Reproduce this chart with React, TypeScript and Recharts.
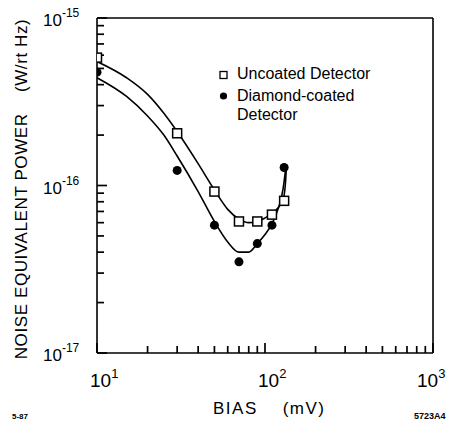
import React from 'react';
import { ComposedChart, XAxis, YAxis, Line, Scatter, Legend, Label } from 'recharts';

// Measured points
const uncoatedBias = [10, 30, 50, 70, 90, 110, 130];
const uncoatedNep = [5.8e-16, 2.05e-16, 9.2e-17, 6.1e-17, 6.1e-17, 6.7e-17, 8.1e-17];
const coatedBias = [10, 30, 50, 70, 90, 110, 130];
const coatedNep = [4.75e-16, 1.23e-16, 5.8e-17, 3.5e-17, 4.5e-17, 5.8e-17, 1.28e-16];

// Fitted curves
const uncoatedFitBias = [10, 15, 20, 25, 30, 40, 50, 60, 70, 80, 90, 100, 110, 120, 128, 132, 134];
const uncoatedFitNep = [5.5e-16, 4.4e-16, 3.5e-16, 2.7e-16, 2.1e-16, 1.35e-16, 9.4e-17, 7.2e-17, 6.3e-17, 6.0e-17, 6.1e-17, 6.4e-17, 6.8e-17, 7.4e-17, 8.2e-17, 1.0e-16, 1.27e-16];
const coatedFitBias = [10, 15, 20, 25, 30, 40, 50, 60, 70, 80, 90, 100, 110, 120, 128, 133];
const coatedFitNep = [4.4e-16, 3.4e-16, 2.6e-16, 2.0e-16, 1.5e-16, 9.2e-17, 6.1e-17, 4.6e-17, 4.0e-17, 4.0e-17, 4.5e-17, 5.1e-17, 5.9e-17, 7.3e-17, 9.5e-17, 1.28e-16];

const xTicks = [10, 20, 30, 40, 50, 60, 70, 80, 90, 100, 200, 300, 400, 500, 600, 700, 800, 900, 1000];
const yTicks = [1e-17, 2e-17, 3e-17, 4e-17, 5e-17, 6e-17, 7e-17, 8e-17, 9e-17, 1e-16, 2e-16, 3e-16, 4e-16, 5e-16, 6e-16, 7e-16, 8e-16, 9e-16, 1e-15];

const legendLabels = ['Uncoated Detector', 'Diamond-coated', 'Detector'];

const zip = (xs: number[], ys: number[]) => xs.map((x, i) => ({ x, y: ys[i] }));
const uncoatedPts = zip(uncoatedBias, uncoatedNep);
const coatedPts = zip(coatedBias, coatedNep);
const uncoatedFit = zip(uncoatedFitBias, uncoatedFitNep);
const coatedFit = zip(coatedFitBias, coatedFitNep);

const FONT = '"Liberation Sans", Arial, sans-serif';
const TICK = 7; // inward minor tick length
const TICK_STYLE = { stroke: '#000', strokeWidth: 1.7 };
const exponentOf = (v: number) => Math.round(Math.log10(v));
const isMajor = (v: number) => Math.abs(Math.log10(v) - exponentOf(v)) < 1e-6;

// Tick label components; (x, y) is the inner end of the built-in inward tick line.
const BottomTick = (props: any) => {
  const { x, y, payload } = props;
  const v = payload.value;
  if (!isMajor(v)) return <g />;
  const e = exponentOf(v);
  const startShift = e === 3 ? -16 : -7;
  return (
    <g>
      <line x1={x} x2={x} y1={y} y2={y - 3} stroke="#000" strokeWidth={1.7} />
      <text x={x + startShift} y={y + TICK + 34} fontSize={19} fontFamily={FONT} fill="#000" textAnchor="start">
        10<tspan dy={-9} fontSize={13}>{e}</tspan>
      </text>
    </g>
  );
};

const LeftTick = (props: any) => {
  const { x, y, payload } = props;
  const v = payload.value;
  if (!isMajor(v)) return <g />;
  const e = exponentOf(v);
  return (
    <g>
      <line x1={x} x2={x + 3} y1={y} y2={y} stroke="#000" strokeWidth={1.7} />
      <text x={x - TICK - 54} y={y + 8} fontSize={17} fontFamily={FONT} fill="#000" textAnchor="start">
        10<tspan dy={-9} fontSize={12}>{e}</tspan>
      </text>
    </g>
  );
};

const SquareShape = (props: any) => {
  const { cx, cy } = props;
  return <rect x={cx - 4.5} y={cy - 4.5} width={9} height={9} fill="#fff" stroke="#000" strokeWidth={1.5} />;
};
const DotShape = (props: any) => {
  const { cx, cy } = props;
  return <circle cx={cx} cy={cy} r={4.5} fill="#000" />;
};
const NoShape = () => <g />;

const LegendContent = () => (
  <svg width={200} height={70} style={{ display: 'block', overflow: 'visible' }}>
    <rect x={4} y={7.5} width={7} height={7} fill="#fff" stroke="#000" strokeWidth={1.3} />
    <text x={21} y={15} fontSize={16} fontFamily={FONT} fill="#000">{legendLabels[0]}</text>
    <circle cx={7.5} cy={32} r={3.6} fill="#000" />
    <text x={21} y={37} fontSize={16} fontFamily={FONT} fill="#000">{legendLabels[1]}</text>
    <text x={21} y={56} fontSize={16} fontFamily={FONT} fill="#000">{legendLabels[2]}</text>
  </svg>
);

export default function App() {
  return (
    <div style={{ position: 'absolute', left: 0, top: 0, width: 452, height: 423, background: '#fff' }}>
      <ComposedChart width={452} height={423} margin={{ top: 8, right: 9, bottom: 30, left: 37 }}>
        <XAxis
          xAxisId={0}
          dataKey="x"
          type="number"
          scale="log"
          domain={[10, 1000]}
          ticks={xTicks}
          interval={0}
          tickSize={-TICK}
          tickMargin={0}
          tickLine={TICK_STYLE}
          tick={<BottomTick />}
          axisLine={{ stroke: '#000', strokeWidth: 1.6 }}
          height={40}
          allowDataOverflow
        >
          <Label
            content={() => (
              <text x={213} y={414} fontSize={17} letterSpacing={1.5} fontFamily={FONT} fill="#000" style={{ whiteSpace: 'pre' }}>
                {'BIAS    (mV)'}
              </text>
            )}
          />
        </XAxis>
        <XAxis
          xAxisId="top"
          orientation="top"
          dataKey="x"
          type="number"
          scale="log"
          domain={[10, 1000]}
          ticks={xTicks}
          interval={0}
          tickSize={-TICK}
          tickMargin={0}
          tickLine={TICK_STYLE}
          tick={false}
          axisLine={{ stroke: '#000', strokeWidth: 1.6 }}
          height={10}
          allowDataOverflow
        />
        <YAxis
          yAxisId={0}
          dataKey="y"
          type="number"
          scale="log"
          domain={[1e-17, 1e-15]}
          ticks={yTicks}
          interval={0}
          tickSize={-TICK}
          tickMargin={0}
          tickLine={TICK_STYLE}
          tick={<LeftTick />}
          axisLine={{ stroke: '#000', strokeWidth: 1.6 }}
          width={60}
          allowDataOverflow
        >
          <Label
            content={() => (
              <text
                x={0}
                y={0}
                transform="translate(27, 189) rotate(-90)"
                textAnchor="middle"
                fontSize={17}
                letterSpacing={0.6}
                fontFamily={FONT}
                fill="#000"
                style={{ whiteSpace: 'pre' }}
              >
                {'NOISE EQUIVALENT POWER    (W/rt Hz)'}
              </text>
            )}
          />
        </YAxis>
        <YAxis
          yAxisId="right"
          orientation="right"
          dataKey="y"
          type="number"
          scale="log"
          domain={[1e-17, 1e-15]}
          ticks={yTicks}
          interval={0}
          tickSize={-TICK}
          tickMargin={0}
          tickLine={TICK_STYLE}
          tick={false}
          axisLine={{ stroke: '#000', strokeWidth: 1.6 }}
          width={10}
          allowDataOverflow
        />
        <Legend
          layout="vertical"
          align="center"
          verticalAlign="middle"
          content={<LegendContent />}
          wrapperStyle={{ position: 'absolute', left: 216, top: 64, width: 200, height: 70 }}
        />
        <Line
          data={uncoatedFit}
          dataKey="y"
          type="monotone"
          stroke="#000"
          strokeWidth={1.6}
          dot={false}
          isAnimationActive={false}
          legendType="none"
        />
        <Line
          data={coatedFit}
          dataKey="y"
          type="monotone"
          stroke="#000"
          strokeWidth={1.6}
          dot={false}
          isAnimationActive={false}
          legendType="none"
        />
        <Scatter data={uncoatedPts} dataKey="y" shape={<SquareShape />} isAnimationActive={false} />
        <Scatter data={coatedPts} dataKey="y" shape={<DotShape />} isAnimationActive={false} />
        <Scatter
          data={uncoatedPts}
          dataKey="y"
          xAxisId="top"
          yAxisId="right"
          shape={<NoShape />}
          isAnimationActive={false}
          legendType="none"
        />
      </ComposedChart>
      <div style={{ position: 'absolute', left: 12, top: 412, fontFamily: FONT, fontSize: 8, fontWeight: 'bold', lineHeight: '10px' }}>5-87</div>
      <div style={{ position: 'absolute', left: 414, top: 411, fontFamily: FONT, fontSize: 9, fontWeight: 'bold', lineHeight: '10px' }}>5723A4</div>
    </div>
  );
}
